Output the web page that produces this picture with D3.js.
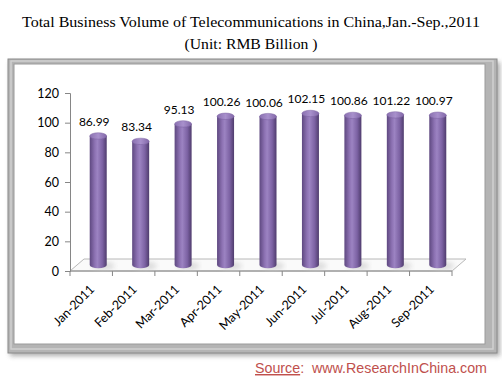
<!DOCTYPE html>
<html>
<head>
<meta charset="utf-8">
<script src="https://cdn.jsdelivr.net/npm/d3@7"></script>
<style>
  body { margin: 0; background: #fff; }
  svg { display: block; }
</style>
</head>
<body>
<div id="vis"></div>
<script>
const months = ["Jan-2011", "Feb-2011", "Mar-2011", "Apr-2011", "May-2011",
  "Jun-2011", "Jul-2011", "Aug-2011", "Sep-2011"];
const volumes = [86.99, 83.34, 95.13, 100.26, 100.06, 102.15, 100.86, 101.22, 100.97];
const yTicks = [0, 20, 40, 60, 80, 100, 120];

const W = 502, H = 386;
const plot = { left: 70, right: 452, top: 93, bottom: 271 };
const depth = { dx: 14, dy: -12 };
const barW = 17;

const svg = d3.select("#vis").append("svg").attr("width", W).attr("height", H);
const defs = svg.append("defs");

// frame shadow
const blur = defs.append("filter").attr("id", "blur")
  .attr("x", "-10%").attr("y", "-10%").attr("width", "120%").attr("height", "120%");
blur.append("feGaussianBlur").attr("stdDeviation", 2.5);

const cyl = defs.append("linearGradient").attr("id", "cyl")
  .attr("x1", "0%").attr("x2", "100%").attr("y1", "0%").attr("y2", "0%");
[["0%", "#5e4880"], ["30%", "#8d72b3"], ["45%", "#9c83c2"], ["75%", "#7c62a3"], ["100%", "#4f3c6d"]]
  .forEach(([o, c]) => cyl.append("stop").attr("offset", o).attr("stop-color", c));

const capG = defs.append("linearGradient").attr("id", "cap")
  .attr("x1", "0%").attr("x2", "100%").attr("y1", "0%").attr("y2", "0%");
[["0%", "#8a70b0"], ["50%", "#a890cc"], ["100%", "#8268a8"]]
  .forEach(([o, c]) => capG.append("stop").attr("offset", o).attr("stop-color", c));

// title
svg.append("text")
  .attr("x", W / 2).attr("y", 27)
  .attr("text-anchor", "middle")
  .attr("textLength", 458).attr("lengthAdjust", "spacingAndGlyphs")
  .style("font-family", "'Liberation Serif', 'DejaVu Serif', serif")
  .style("font-size", "15px")
  .text("Total Business Volume of Telecommunications in China,Jan.-Sep.,2011");

svg.append("text")
  .attr("x", 251).attr("y", 49)
  .attr("text-anchor", "middle")
  .attr("textLength", 133).attr("lengthAdjust", "spacingAndGlyphs")
  .style("font-family", "'Liberation Serif', 'DejaVu Serif', serif")
  .style("font-size", "15px")
  .text("(Unit: RMB Billion )");

// picture frame
svg.append("rect").attr("x", 10).attr("y", 62).attr("width", 490).attr("height", 294)
  .attr("fill", "#777").attr("opacity", 0.6).attr("filter", "url(#blur)");
svg.append("rect").attr("x", 8).attr("y", 59).attr("width", 489).attr("height", 294)
  .attr("fill", "#b4b4b4").attr("stroke", "#8a8a8a").attr("stroke-width", 1);
svg.append("rect").attr("x", 11).attr("y", 61).attr("width", 482).attr("height", 288)
  .attr("fill", "none").attr("stroke", "#d0d0d0").attr("stroke-width", 1.5);
svg.append("rect").attr("x", 14).attr("y", 64).attr("width", 471).attr("height", 280)
  .attr("fill", "#fff").attr("stroke", "#9a9a9a").attr("stroke-width", 1);

const x = d3.scaleBand().domain(months).range([plot.left, plot.right]).padding(0);
const y = d3.scaleLinear().domain([0, 120]).range([plot.bottom, plot.top]);

const g = svg.append("g");

// floor
const fl = [
  [plot.left, plot.bottom], [plot.right, plot.bottom],
  [plot.right + depth.dx, plot.bottom + depth.dy], [plot.left + depth.dx, plot.bottom + depth.dy]
];
g.append("polygon").attr("points", fl.map(p => p.join(",")).join(" "))
  .attr("fill", "#fafafa").attr("stroke", "#b8b8b8").attr("stroke-width", 1);

// y axis
const yAxis = d3.axisLeft(y).tickValues(yTicks).tickSize(5).tickPadding(6);
const ya = g.append("g").attr("transform", `translate(${plot.left},0)`).call(yAxis);
ya.select(".domain").attr("stroke", "#868686");
ya.selectAll(".tick line").attr("stroke", "#868686");
ya.selectAll(".tick text")
  .style("font-family", "Lato, 'Open Sans', sans-serif")
  .style("font-size", "12.5px").attr("fill", "#000");

// x axis
const xa = g.append("g").attr("transform", `translate(0,${plot.bottom})`);
xa.append("line").attr("x1", plot.left).attr("x2", plot.right)
  .attr("stroke", "#868686");
xa.selectAll(".xt").data(d3.range(months.length + 1)).enter().append("line")
  .attr("x1", i => plot.left + i * x.bandwidth())
  .attr("x2", i => plot.left + i * x.bandwidth())
  .attr("y1", 0).attr("y2", 5).attr("stroke", "#868686");
xa.selectAll(".xl").data(months).enter().append("text")
  .attr("transform", d => `translate(${x(d) + x.bandwidth() / 2 + 4},${19}) rotate(-45)`)
  .attr("text-anchor", "end")
  .style("font-family", "Lato, 'Open Sans', sans-serif")
  .style("font-size", "12.5px")
  .text(d => d);

// cylinders
const ox = depth.dx / 2, oy = depth.dy / 2, ry = 3.2;
const bars = g.selectAll(".bar").data(volumes).enter().append("g");
bars.append("ellipse")
  .attr("cx", (d, i) => x(months[i]) + x.bandwidth() / 2 + ox + 5)
  .attr("cy", plot.bottom + oy + 1)
  .attr("rx", barW / 2 + 3).attr("ry", ry + 1)
  .attr("fill", "#c8c8c8").attr("opacity", 0.6).attr("filter", "url(#blur)");
bars.append("path")
  .attr("d", (d, i) => {
    const cx = x(months[i]) + x.bandwidth() / 2 + ox;
    const yb = plot.bottom + oy, yt = y(d) + oy;
    const l = cx - barW / 2, r = cx + barW / 2;
    return `M${l},${yt} L${l},${yb} A${barW / 2},${ry} 0 0 0 ${r},${yb} L${r},${yt} Z`;
  })
  .attr("fill", "url(#cyl)");
bars.append("ellipse")
  .attr("cx", (d, i) => x(months[i]) + x.bandwidth() / 2 + ox)
  .attr("cy", d => y(d) + oy)
  .attr("rx", barW / 2).attr("ry", ry)
  .attr("fill", "url(#cap)").attr("stroke", "#7a60a0").attr("stroke-width", 0.5);

// value labels
bars.append("text")
  .attr("x", (d, i) => x(months[i]) + x.bandwidth() / 2 + 3)
  .attr("y", d => y(d) + oy - 10)
  .attr("text-anchor", "middle")
  .style("font-family", "Lato, 'Open Sans', sans-serif")
  .style("font-size", "12px")
  .text(d => d.toFixed(2));

// source
const src = svg.append("text").attr("x", 255).attr("y", 373)
  .attr("textLength", 232).attr("lengthAdjust", "spacingAndGlyphs")
  .style("white-space", "pre")
  .style("font-family", "'Liberation Sans', 'DejaVu Sans', sans-serif")
  .style("font-size", "14.5px").attr("fill", "#c0504d");
src.append("tspan").attr("text-decoration", "underline").text("Source");
src.append("tspan").text(":  www.ResearchInChina.com");
</script>
</body>
</html>
